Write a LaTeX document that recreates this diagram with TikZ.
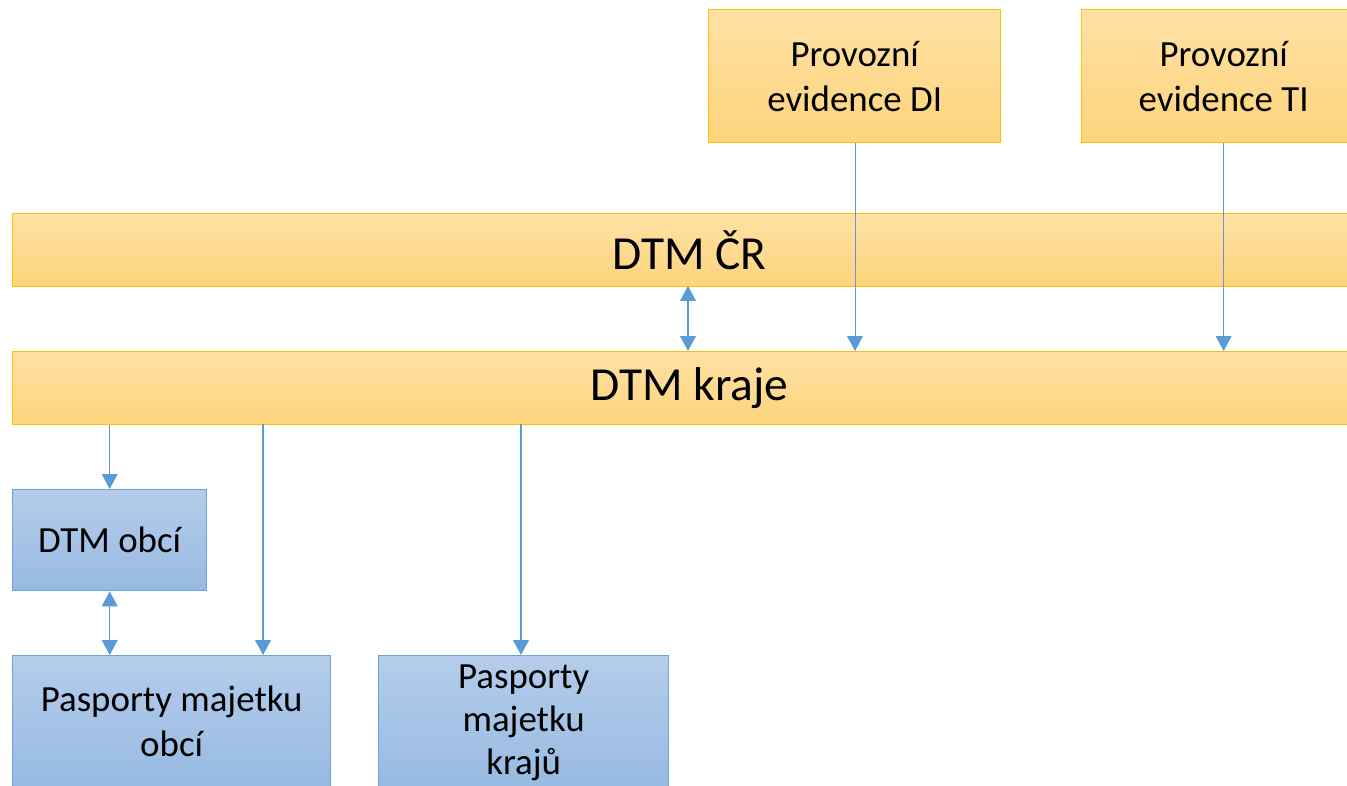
\documentclass[tikz,border=0pt]{standalone}
\usepackage{fontspec}
\setmainfont{Carlito}
\usetikzlibrary{arrows.meta}
\definecolor{boxorange}{HTML}{FFC000}
\definecolor{orangetop}{HTML}{FEE1A4}
\definecolor{orangebot}{HTML}{FDD47C}
\definecolor{boxblue}{HTML}{6CA3DA}
\definecolor{bluetop}{HTML}{B4CDEA}
\definecolor{bluebot}{HTML}{97BAE2}
\definecolor{linkblue}{HTML}{5B9BD5}
\begin{document}
\begin{tikzpicture}
		[x=0.02cm,y=-0.02cm,
		obox/.style={draw=boxorange,line width=0.8pt,top color=orangetop,bottom color=orangebot,
			anchor=north west,inner sep=0pt,align=center},
		bbox/.style={draw=boxblue,line width=0.8pt,top color=bluetop,bottom color=bluebot,
			anchor=north west,inner sep=0pt,align=center},
		small/.style={font=\fontsize{21pt}{25.5pt}\selectfont},
		big/.style={font=\fontsize{27pt}{32pt}\selectfont},
		link/.style={draw=linkblue,line width=0.7pt,-{Triangle[width=9pt,length=8.5pt]}},
		dlink/.style={link,{Triangle[width=9pt,length=8.5pt]}-{Triangle[width=9pt,length=8.5pt]}}]
		
		\useasboundingbox (0,0) rectangle (1347,786);
		\clip (0,0) rectangle (1347,786);
		
		\node[obox,small,minimum width=5.84cm,minimum height=2.66cm] (di) at (708,9)
		{Provozní\\evidence DI};
		\node[obox,small,minimum width=5.68cm,minimum height=2.66cm] (ti) at (1081,9)
		{Provozní\\evidence TI};
		
		\node[obox,big,minimum width=27.08cm,minimum height=1.46cm] (cr) at (12,213) {DTM ČR};
		\node[obox,big,minimum width=27.08cm,minimum height=1.46cm] (kraje) at (12,351) {DTM kraje};
		
		\node[bbox,small,minimum width=3.88cm,minimum height=2.02cm] (obci) at (12,489) {DTM obcí};
		\node[bbox,small,minimum width=6.36cm,minimum height=2.62cm] (pobci) at (12,655)
		{Pasporty majetku\\obcí};
		\node[bbox,small,minimum width=5.8cm,minimum height=2.68cm,
			font=\fontsize{21pt}{24.5pt}\selectfont] (pkraju) at (378,655)
		{Pasporty\\majetku\\krajů};
		
		\coordinate (crk) at (688,286); % CR <-> kraje
		\coordinate (kp1) at (263,424);
		\coordinate (kp2) at (521,424);
		
		\draw[dlink] (crk) -- (crk |- kraje.north);
		\draw[link,line width=0.5pt] (di.south -| 855,0) -- (kraje.north -| 855,0);
		\draw[link,line width=0.5pt] (ti.south) -- (ti.south |- kraje.north);
		
		\draw[link] (obci.north |- kraje.south) -- (obci.north);
		\draw[link] (kp1) -- (kp1 |- pobci.north);
		\draw[link] (kp2) -- (kp2 |- pkraju.north);
		\draw[dlink] (obci.south) -- (obci.south |- pobci.north);
	
		\end{tikzpicture}
\end{document}
